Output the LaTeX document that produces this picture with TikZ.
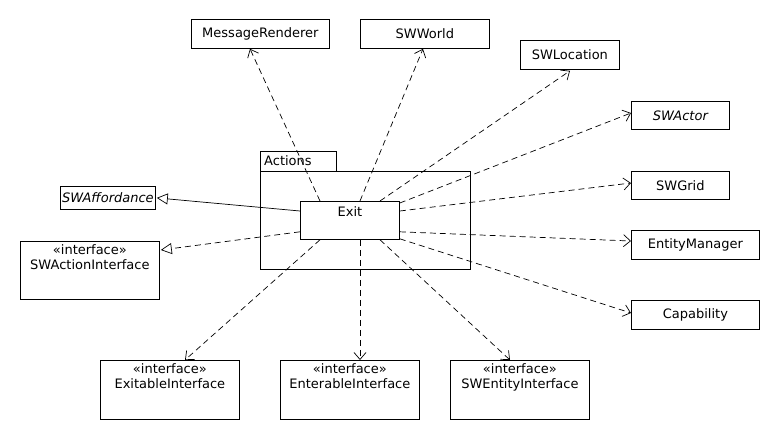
\documentclass[tikz,border=0pt]{standalone}
\usepackage{fontspec}
\setmainfont{DejaVu Sans}
\usetikzlibrary{arrows.meta}
\begin{document}
\begin{tikzpicture}[x=1pt,y=-1pt,
  font=\fontsize{13}{15}\selectfont,
  box/.style={draw, line width=0.8pt, inner sep=0pt, anchor=north west},
  txt/.style={anchor=north, inner sep=0pt, align=center},
  dep/.style={draw, line width=0.7pt, dash pattern=on 6pt off 4pt, -{Straight Barb[length=7pt,width=12pt,line width=0.7pt]}},
  gen/.style={draw, line width=0.7pt, -{Triangle[open,length=11pt,width=11pt,line width=0.7pt]}},
  gend/.style={gen, dash pattern=on 6pt off 4pt}]
\useasboundingbox (0,0) rectangle (780,440);
\fill[white] (0,0) rectangle (780,440);
% package
\node[box, minimum width=76pt, minimum height=20pt] (ptab) at (260,151) {};
\node[anchor=west, inner sep=0pt] (plabel) at (264,161) {Actions};
\node[box, minimum width=210pt, minimum height=98pt] (pbody) at (260,171) {};
% exit
\node[box, minimum width=99pt, minimum height=38pt, fill=white] (exit) at (300,201) {};
\node[txt] (exitt) at ([yshift=-5pt]exit.north) {Exit};
% top
\node[box, minimum width=138pt, minimum height=29pt] (msg) at (191,19) {};
\node (msgt) at (msg.center) {MessageRenderer};
\node[box, minimum width=129pt, minimum height=29pt] (world) at (360,19) {};
\node (worldt) at (world.center) {SWWorld};
\node[box, minimum width=99pt, minimum height=29pt] (loc) at (520,40) {};
\node (loct) at (loc.center) {SWLocation};
% right
\node[box, minimum width=98pt, minimum height=28pt] (actor) at (631,101) {};
\node (actort) at (actor.center) {\itshape SWActor};
\node[box, minimum width=98pt, minimum height=28pt] (grid) at (631,171) {};
\node (gridt) at (grid.center) {SWGrid};
\node[box, minimum width=128pt, minimum height=29pt] (em) at (631,230) {};
\node (emt) at (em.center) {EntityManager};
\node[box, minimum width=128pt, minimum height=29pt] (cap) at (631,300) {};
\node (capt) at (cap.center) {Capability};
% left
\node[box, minimum width=95pt, minimum height=23pt] (aff) at (60,186) {};
\node (afft) at (aff.center) {\itshape SWAffordance};
\node[box, minimum width=139pt, minimum height=58pt] (sai) at (20,241) {};
\node[txt] (sait) at ([yshift=-3pt]sai.north) {«interface»\\SWActionInterface};
% bottom
\node[box, minimum width=139pt, minimum height=59pt] (exi) at (100,360) {};
\node[txt] (exit2) at ([yshift=-3pt]exi.north) {«interface»\\ExitableInterface};
\node[box, minimum width=139pt, minimum height=59pt] (eni) at (280,360) {};
\node[txt] (enit) at ([yshift=-3pt]eni.north) {«interface»\\EnterableInterface};
\node[box, minimum width=139pt, minimum height=59pt] (swe) at (450,360) {};
\node[txt] (swet) at ([yshift=-3pt]swe.north) {«interface»\\SWEntityInterface};
% connectors
\draw[dep] ([xshift=20pt]exit.north west) -- ([xshift=59pt]msg.south west);
\draw[dep] ([xshift=60pt]exit.north west) -- ([xshift=63pt]world.south west);
\draw[dep] ([xshift=80pt]exit.north west) -- ([xshift=50pt,yshift=-1pt]loc.south west);
\draw[dep] ([yshift=-2pt]exit.north east) -- ([yshift=-12pt]actor.north west);
\draw[dep] ([yshift=-10pt]exit.north east) -- ([yshift=-12pt]grid.north west);
\draw[dep] ([yshift=8pt]exit.south east) -- ([yshift=-11pt]em.north west);
\draw[dep] ([yshift=1pt]exit.south east) -- ([yshift=-13pt]cap.north west);
\draw[dep] ([xshift=20pt]exit.south west) -- ([xshift=85pt]exi.north west);
\draw[dep] ([xshift=60pt]exit.south west) -- ([xshift=80pt]eni.north west);
\draw[dep] ([xshift=80pt]exit.south west) -- ([xshift=60pt]swe.north west);
\draw[gen] ([yshift=-10pt]exit.north west) -- ([xshift=1pt]aff.east);
\draw[gend] ([yshift=8pt]exit.south west) -- ([xshift=1pt,yshift=-9pt]sai.north east);
\end{tikzpicture}
\end{document}
